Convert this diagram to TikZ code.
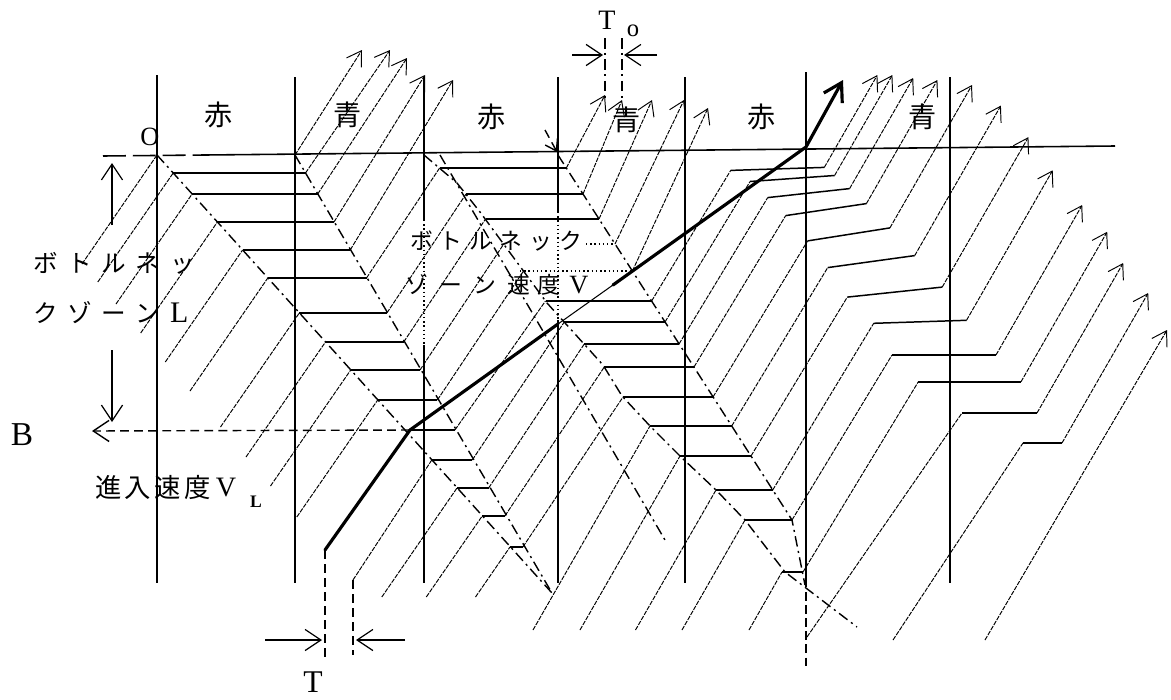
\documentclass[tikz,border=0pt]{standalone}
\usepackage{fontspec}
\setmainfont{Liberation Serif}
\newfontfamily\jp{Noto Sans CJK JP}
\usetikzlibrary{arrows.meta}
\newcommand{\myfs}[1]{\fontsize{#1}{#1}\selectfont}
\begin{document}
\begin{tikzpicture}[x=0.02cm,y=-0.02cm,
  sig/.style={line width=0.9pt},
  que/.style={line width=0.85pt},
  veh/.style={line width=0.55pt,dash pattern=on 2.6pt off 0.7pt},
  varr/.style={line width=0.55pt,dash pattern=on 2.6pt off 0.7pt,-{Straight Barb[length=8pt,width=10pt]}},
  shock/.style={line width=0.8pt,dash pattern=on 6pt off 2.5pt on 1.2pt off 2.5pt},
  dotl/.style={line width=0.7pt,dash pattern=on 0.8pt off 1.6pt},
  dimarr/.style={line width=0.7pt,-{Straight Barb[length=9pt,width=12pt]}},
  dsh/.style={line width=0.8pt,dash pattern=on 5pt off 3pt},
  thk/.style={line width=1.8pt,line join=round,line cap=round},
  lbl/.style={inner sep=0pt,outer sep=0pt}
]
\useasboundingbox (0,0) rectangle (1171,700);
\fill[white] (0,0) rectangle (1171,700);

% ---------------- signal lines
\draw[sig] (157,75) -- (157,583);
\draw[sig] (295,77) -- (295,583);
\draw[sig] (424,77) -- (424,220);
\draw[dotl] (424,220) -- (424,345);
\draw[sig] (424,345) -- (424,583);
\draw[sig] (558,77) -- (558,212);
\draw[dotl] (558,212) -- (558,320);
\draw[sig] (558,320) -- (558,583);
\draw[sig] (685,77) -- (685,583);
\draw[sig] (806,72) -- (806,583);
\draw[line width=1.3pt,dash pattern=on 5pt off 2.5pt] (806,460) -- (806,670);
\draw[sig] (950,77) -- (950,583);

% stop line
\draw[sig,dash pattern=on 13pt off 4pt] (103,156) -- (205,155);
\draw[sig] (205,155) -- (1115,146);

% ---------------- shock lines
\draw[shock] (157,155) -- (552,593);
\draw[shock] (295,155) -- (552,593);
\draw[shock] (424,155) -- (457,183) -- (480,212) -- (547,303) -- (603,365) -- (622,396) -- (650,426) -- (680,456) -- (716,490) -- (745,520) -- (785,572) -- (857,627);
\draw[shock] (558,155) -- (792,520) -- (805,585);
\draw[shock] (440,155) -- (665,540);
\draw[dsh,-{Straight Barb[length=6pt,width=8pt]}] (545,130) -- (557,152);

% ---------------- group A approaches
\draw[veh] (82,264) -- (157,155);
\draw[veh] (97.8,282) -- (173.2,173);
\draw[veh] (116,304) -- (192.1,194);
\draw[veh] (140.7,333) -- (217.4,222);
\draw[veh] (165.3,362) -- (242.6,250);
\draw[veh] (190,391) -- (267.8,278);
\draw[veh] (220.5,427) -- (299.3,313);
\draw[veh] (246,457) -- (325.5,342);
\draw[veh] (270.5,486) -- (350.7,370);
\draw[veh] (296.8,517) -- (377.7,400);
\draw[veh] (353,580) -- (431.8,460);
\draw[veh] (381.8,597) -- (457,488);
\draw[veh] (426.3,597) -- (482.2,516);
\draw[veh] (475.5,597) -- (510,547);
% group A queues
\draw[que] (173.2,173) -- (305.5,173);
\draw[que] (192.1,194) -- (317.7,194);
\draw[que] (217.4,222) -- (334,222);
\draw[que] (242.6,250) -- (350.2,250);
\draw[que] (267.8,278) -- (366.5,278);
\draw[que] (299.3,313) -- (386.9,313);
\draw[que] (325.5,342) -- (403.7,342);
\draw[que] (350.7,370) -- (420,370);
\draw[que] (377.7,400) -- (437.4,400);
\draw[que] (410,430) -- (454.9,430);
\draw[que] (431.8,460) -- (472.3,460);
\draw[que] (457,488) -- (488.6,488);
\draw[que] (482.2,516) -- (504.9,516);
\draw[que] (510,547) -- (522.9,547);
% group A departures
\draw[varr] (295,155) -- (362,50);
\draw[varr] (305.5,173) -- (390,50);
\draw[varr] (317.7,194) -- (407,58);
\draw[varr] (334,222) -- (425,75);
\draw[varr] (350.2,250) -- (453,80);
\draw[veh] (366.5,278) -- (439.6,168);
\draw[veh] (386.9,313) -- (466,194);
\draw[veh] (403.7,342) -- (485.5,219);
\draw[veh] (420,370) -- (503.8,244);
\draw[veh] (437.4,400) -- (523.5,271);
\draw[veh] (454.9,430) -- (545.5,301);
\draw[veh] (472.3,460) -- (564.3,322);
\draw[veh] (488.6,488) -- (584.3,344);
\draw[veh] (504.9,516) -- (604.3,367);
\draw[veh] (522.9,547) -- (623,397);

% ---------------- group B queues
\draw[que] (439.6,168) -- (566.3,168);
\draw[que] (466,194) -- (583,194);
\draw[que] (485.5,219) -- (599,219);
\draw[dotl] (586,244) -- (615,244);
\draw[dotl] (520,271) -- (632.4,271);
\draw[que] (545.5,301) -- (651.6,301);
\draw[que] (564.3,322) -- (665,322);
\draw[que] (584.3,344) -- (679,344);
\draw[que] (604.3,367) -- (694,367);
\draw[que] (623,397) -- (713,397);
\draw[que] (650,426) -- (731.7,426);
\draw[que] (680,456) -- (751,456);
\draw[que] (716,490) -- (772.7,490);
\draw[que] (745,520) -- (792,520);
\draw[que] (782,572) -- (803,572);
% new arrivals into B
\draw[veh] (533,630) -- (650,426);
\draw[veh] (580,630) -- (680,456);
\draw[veh] (635.5,630) -- (716,490);
\draw[veh] (682,630) -- (745,520);
\draw[veh] (749,630) -- (782,572);
% group B departures
\draw[varr] (566.3,168) -- (605,95);
\draw[varr] (583,194) -- (622,100);
\draw[varr] (599,219) -- (652,100);
\draw[varr] (615,244) -- (684,100);
\draw[varr] (632.4,271) -- (708,108);
\draw[veh] (651.6,301) -- (730.7,170.4);
\draw[veh] (665,322) -- (750.1,181.5);
\draw[veh] (679,344) -- (767.7,197.6);
\draw[veh] (694,367) -- (785.7,215.6);
\draw[veh] (713,397) -- (807.6,240.9);
\draw[veh] (731.7,426) -- (827.7,267.6);
\draw[veh] (751,456) -- (847.3,297.1);
\draw[veh] (772.7,490) -- (873.7,323.3);
\draw[veh] (792,520) -- (892,355);
\draw[veh] (803,572) -- (918.3,381.8);

% ---------------- group C
\draw[veh] (807,637) -- (962,413);
\draw[veh] (893,640) -- (1023,443);
\draw[que] (730.7,170.4) -- (824.3,167.4);
\draw[que] (750.1,181.5) -- (834.6,175.5);
\draw[que] (767.7,197.6) -- (849.6,188.6);
\draw[que] (785.7,215.6) -- (866.4,203.6);
\draw[que] (807.6,240.9) -- (889.9,227.9);
\draw[que] (827.7,267.6) -- (914.7,255.6);
\draw[que] (847.3,297.1) -- (942.2,287.1);
\draw[que] (873.7,323.3) -- (966.5,320.3);
\draw[que] (892,355) -- (996,355);
\draw[que] (918.3,381.8) -- (1021,381.8);
\draw[que] (962,413) -- (1037,413);
\draw[que] (1023,443) -- (1062,443);
\draw[varr] (824.3,167.4) -- (877.4,75);
\draw[varr] (834.6,175.5) -- (892.4,75);
\draw[varr] (849.6,188.6) -- (913.2,78);
\draw[varr] (866.4,203.6) -- (937.4,80);
\draw[varr] (889.9,227.9) -- (972,85);
\draw[varr] (914.7,255.6) -- (1000.9,105.6);
\draw[varr] (942.2,287.1) -- (1028.4,137.1);
\draw[varr] (966.5,320.3) -- (1052.7,170.3);
\draw[varr] (996,355) -- (1082.2,205);
\draw[varr] (1021,381.8) -- (1107.2,231.8);
\draw[varr] (1037,413) -- (1123.2,263);
\draw[varr] (1062,443) -- (1148.2,293);
\draw[varr] (985,640) -- (1167,330);

% ---------------- thick trajectory
\draw[thk] (325,550) -- (410,430) -- (558,324);
\draw[line width=0.6pt] (558,324) -- (613,285);
\draw[thk,-{Straight Barb[length=10pt,width=12pt]}] (613,285) -- (806,147) -- (843,80);

% ---------------- dimension marks
\draw[dimarr] (112,225) -- (112,163);
\draw[dimarr] (112,350) -- (112,422);
\draw[dsh,-{Straight Barb[length=9pt,width=12pt]}] (410,430) -- (92,431);
\draw[shock] (605,38) -- (605,100);
\draw[shock] (622,38) -- (622,100);
\draw[dimarr] (572,55) -- (603,55);
\draw[dimarr] (657,55) -- (624,55);
\draw[dsh] (325,550) -- (325,658);
\draw[dsh] (353,580) -- (353,655);
\draw[dimarr] (265,640) -- (322,640);
\draw[dimarr] (405,640) -- (356,640);

% ---------------- labels
\node[lbl] (r1) at (219,115) {\jp\myfs{16pt}赤};
\node[lbl] (g1) at (348,115) {\jp\myfs{16pt}青};
\node[lbl] (r2) at (492,117) {\jp\myfs{16pt}赤};
\node[lbl] (g2) at (627,120) {\jp\myfs{16pt}青};
\node[lbl] (r3) at (762,117) {\jp\myfs{16pt}赤};
\node[lbl] (g3) at (923,117) {\jp\myfs{16pt}青};
\node[lbl] (o) at (150,137) {\myfs{15pt}O};
\node[lbl] (b) at (22,435) {\myfs{19pt}B};
\node[lbl] (t0a) at (607,20) {\myfs{16pt}T};
\node[lbl] (t0b) at (633,31) {\myfs{14pt}o};
\node[lbl] (t) at (313,682) {\myfs{18pt}T};
\node[lbl,anchor=west] (bn1) at (33,263) {\jp\myfs{14pt}ボ\hspace{5.5pt}ト\hspace{5.5pt}ル\hspace{5.5pt}ネ\hspace{5.5pt}ッ};
\node[lbl,anchor=west] (bn2) at (33,313) {\jp\myfs{14pt}ク\hspace{5.5pt}ゾ\hspace{5.5pt}ー\hspace{5.5pt}ン\hspace{5.5pt}{\rmfamily\myfs{17pt}L}};
\node[lbl,anchor=west] (bm1) at (410,241) {\jp\myfs{13pt}ボ\hspace{4pt}ト\hspace{4pt}ル\hspace{4pt}ネ\hspace{4pt}ッ\hspace{4pt}ク};
\node[lbl,anchor=west] (bm2) at (405,285) {\jp\myfs{13pt}ゾ\hspace{6.5pt}ー\hspace{6.5pt}ン\hspace{6.5pt}速\hspace{4pt}度\hspace{5pt}{\rmfamily\myfs{15pt}V}};
\node[lbl,anchor=west] (vl) at (95,488) {\jp\myfs{15pt}進\hspace{2pt}入\hspace{2pt}速\hspace{2pt}度};
\node[lbl] (vlv) at (226,488) {\myfs{16pt}V};
\node[lbl] (vll) at (256,502) {\myfs{10pt}\bfseries L};
\end{tikzpicture}
\end{document}
